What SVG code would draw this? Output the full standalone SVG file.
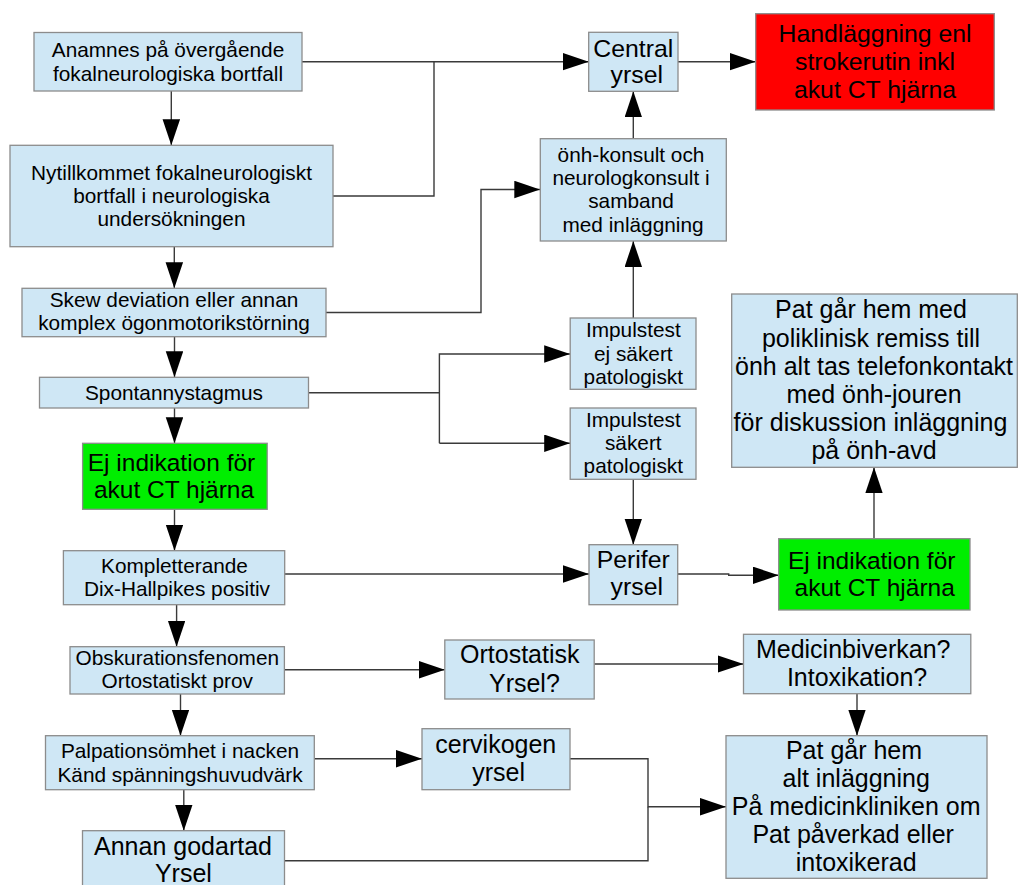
<svg xmlns="http://www.w3.org/2000/svg" width="1018" height="885" viewBox="0 0 1018 885">
<style>
.box{fill:#cfe7f5;stroke:#8c8c8c;stroke-width:1.3}
.green{fill:#00ee00;stroke:#8c8c8c;stroke-width:1.3}
.red{fill:#ff0000;stroke:#8c8c8c;stroke-width:1.3}
text{font-family:"Liberation Sans",Arial,sans-serif;text-anchor:middle;fill:#000}
.s{font-size:20.8px}
.l{font-size:25px}
.c{fill:none;stroke:#3a3a3a;stroke-width:1.4}
</style>
<defs>
<marker id="ah" markerUnits="userSpaceOnUse" markerWidth="26" markerHeight="18" refX="26" refY="8.75" orient="auto">
<path d="M0,0 L26,8.75 L0,17.5 z" fill="#000"/>
</marker>
</defs>
<rect width="1018" height="885" fill="#fff"/>
<g id="connectors">
<path class="c" d="M302,61.7 H588.7" marker-end="url(#ah)"/>
<path class="c" d="M333,196 H434 V61.7"/>
<path class="c" d="M678,61.7 H755.7" marker-end="url(#ah)"/>
<path class="c" d="M633.3,138.7 V91.3" marker-end="url(#ah)"/>
<path class="c" d="M326,312.5 H481 V189.5 H540.3" marker-end="url(#ah)"/>
<path class="c" d="M633.3,318 V241" marker-end="url(#ah)"/>
<path class="c" d="M308.5,392.7 H439.4"/>
<path class="c" d="M439.4,443.3 V354 H570.2" marker-end="url(#ah)"/>
<path class="c" d="M439.4,443.3 H570.2" marker-end="url(#ah)"/>
<path class="c" d="M633.3,479.3 V544.7" marker-end="url(#ah)"/>
<path class="c" d="M284.7,574 H589" marker-end="url(#ah)"/>
<path class="c" d="M677.7,574 H728.7 V575.3 H778.7" marker-end="url(#ah)"/>
<path class="c" d="M874,538.7 V467.3" marker-end="url(#ah)"/>
<path class="c" d="M171.3,91 V145.3" marker-end="url(#ah)"/>
<path class="c" d="M174.3,246.7 V288.3" marker-end="url(#ah)"/>
<path class="c" d="M174.5,336.7 V377.3" marker-end="url(#ah)"/>
<path class="c" d="M174.5,408 V443.3" marker-end="url(#ah)"/>
<path class="c" d="M174.5,509.3 V550.7" marker-end="url(#ah)"/>
<path class="c" d="M176.6,604.7 V646.7" marker-end="url(#ah)"/>
<path class="c" d="M180.5,694 V735.7" marker-end="url(#ah)"/>
<path class="c" d="M183.8,789.7 V830.7" marker-end="url(#ah)"/>
<path class="c" d="M284.4,669.7 H444.8" marker-end="url(#ah)"/>
<path class="c" d="M594.2,664 H743.5" marker-end="url(#ah)"/>
<path class="c" d="M857,693.7 V735.7" marker-end="url(#ah)"/>
<path class="c" d="M314.3,758.7 H422" marker-end="url(#ah)"/>
<path class="c" d="M570,758.7 H648 V806.7 H726" marker-end="url(#ah)"/>
<path class="c" d="M284.4,860.7 H648 V806.7"/>
</g>
<g id="n-anamnes"><rect class="box" x="34" y="32.5" width="268" height="58.5"/><text class="s"><tspan x="168" y="57.3">Anamnes på övergående</tspan><tspan x="168" y="81">fokalneurologiska bortfall</tspan></text></g>
<g id="n-nytillkommet"><rect class="box" x="10" y="145.3" width="323" height="101.4"/><text class="s"><tspan x="171.5" y="180">Nytillkommet fokalneurologiskt</tspan><tspan x="171.5" y="203">bortfall i neurologiska</tspan><tspan x="171.5" y="226">undersökningen</tspan></text></g>
<g id="n-skew"><rect class="box" x="22" y="288.3" width="304" height="48.4"/><text class="s"><tspan x="174" y="307.3">Skew deviation eller annan</tspan><tspan x="174" y="330">komplex ögonmotorikstörning</tspan></text></g>
<g id="n-spontan"><rect class="box" x="39.5" y="377.3" width="269" height="30.7"/><text class="s" x="174" y="400">Spontannystagmus</text></g>
<g id="n-ej1"><rect class="green" x="82.6" y="443.3" width="184.6" height="66"/><text class="l" style="font-size:24.5px"><tspan x="171.5" y="470.7">Ej indikation för</tspan><tspan x="174" y="498.3">akut CT hjärna</tspan></text></g>
<g id="n-kompl"><rect class="box" x="63.4" y="550.7" width="221.3" height="54"/><text class="s"><tspan x="174.5" y="573.3">Kompletterande</tspan><tspan x="177" y="596">Dix-Hallpikes positiv</tspan></text></g>
<g id="n-obsk"><rect class="box" x="70" y="646.7" width="214.4" height="47.3"/><text class="s"><tspan x="177.3" y="665.3">Obskurationsfenomen</tspan><tspan x="177.3" y="688.3">Ortostatiskt prov</tspan></text></g>
<g id="n-palp"><rect class="box" x="45.5" y="735.7" width="268.8" height="54"/><text class="s"><tspan x="180" y="758.3">Palpationsömhet i nacken</tspan><tspan x="180" y="781.7">Känd spänningshuvudvärk</tspan></text></g>
<g id="n-annan"><rect class="box" x="82.5" y="830.7" width="202" height="70"/><text class="l"><tspan x="183" y="855">Annan godartad</tspan><tspan x="183.4" y="881.7">Yrsel</tspan></text></g>
<g id="n-central"><rect class="box" x="588.7" y="32.3" width="89.3" height="59"/><text class="l" style="font-size:24.8px"><tspan x="633.3" y="56.7">Central</tspan><tspan x="636.8" y="83.3">yrsel</tspan></text></g>
<g id="n-stroke"><rect class="red" x="755.7" y="13.7" width="238.6" height="96.3"/><text class="l" style="font-size:24.8px"><tspan x="875" y="42.3">Handläggning enl</tspan><tspan x="875" y="70">strokerutin inkl</tspan><tspan x="875" y="98.3">akut CT hjärna</tspan></text></g>
<g id="n-onh"><rect class="box" x="540.3" y="138.7" width="186" height="102.3"/><text class="s"><tspan x="631" y="162.3">önh-konsult och</tspan><tspan x="631" y="185">neurologkonsult i</tspan><tspan x="631" y="208.3">samband</tspan><tspan x="633" y="231.7">med inläggning</tspan></text></g>
<g id="n-imp1"><rect class="box" x="570.2" y="318" width="125.8" height="71.3"/><text class="s"><tspan x="633.3" y="337.3">Impulstest</tspan><tspan x="633.3" y="360.7">ej säkert</tspan><tspan x="633.3" y="383.5">patologiskt</tspan></text></g>
<g id="n-imp2"><rect class="box" x="570.2" y="408" width="125.8" height="71.3"/><text class="s"><tspan x="633.3" y="427.3">Impulstest</tspan><tspan x="633.3" y="450">säkert</tspan><tspan x="633.3" y="473.3">patologiskt</tspan></text></g>
<g id="n-perifer"><rect class="box" x="589" y="544.7" width="88.7" height="60"/><text class="l" style="font-size:24.8px"><tspan x="633.3" y="568.3">Perifer</tspan><tspan x="636.8" y="595">yrsel</tspan></text></g>
<g id="n-pathem1"><rect class="box" x="731.7" y="294" width="285.6" height="173.3"/><text class="l"><tspan x="871" y="318.3">Pat går hem med</tspan><tspan x="871" y="346.7">poliklinisk remiss till</tspan><tspan x="874" y="374.5">önh alt tas telefonkontakt</tspan><tspan x="874" y="403.3">med önh-jouren</tspan><tspan x="870.5" y="430.7">för diskussion inläggning</tspan><tspan x="874" y="459.3">på önh-avd</tspan></text></g>
<g id="n-ej2"><rect class="green" x="778.7" y="538.7" width="191.3" height="71.3"/><text class="l" style="font-size:24.5px"><tspan x="871.7" y="568.7">Ej indikation för</tspan><tspan x="874.7" y="596">akut CT hjärna</tspan></text></g>
<g id="n-orto"><rect class="box" x="444.8" y="640" width="149.4" height="59"/><text class="l"><tspan x="519.8" y="663.3">Ortostatisk</tspan><tspan x="524.4" y="692.3">Yrsel?</tspan></text></g>
<g id="n-medicin"><rect class="box" x="743.5" y="634.3" width="227.3" height="59.4"/><text class="l"><tspan x="853.2" y="658.3">Medicinbiverkan?</tspan><tspan x="857.1" y="686">Intoxikation?</tspan></text></g>
<g id="n-cerv"><rect class="box" x="422" y="728.7" width="148" height="61"/><text class="l"><tspan x="495.8" y="753.3">cervikogen</tspan><tspan x="498.7" y="780.7">yrsel</tspan></text></g>
<g id="n-pathem2"><rect class="box" x="726" y="735.7" width="261" height="142.6"/><text class="l"><tspan x="854" y="759.3">Pat går hem</tspan><tspan x="856.2" y="787.3">alt inläggning</tspan><tspan x="856.2" y="815">På medicinkliniken om</tspan><tspan x="853.2" y="842.7">Pat påverkad eller</tspan><tspan x="856.2" y="870.7">intoxikerad</tspan></text></g>
</svg>
